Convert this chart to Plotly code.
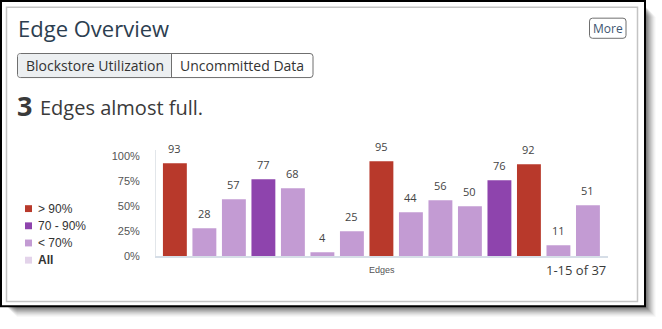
import plotly.graph_objects as go

# Blockstore utilization per edge (page 1 of 37)
edges = [f"Edge {i}" for i in range(1, 16)]
utilization = [93, 28, 57, 77, 68, 4, 25, 95, 44, 56, 50, 76, 92, 11, 51]

legend_labels = ["> 90%", "70 - 90%", "< 70%", "All"]
legend_colors = ["#b8392b", "#8e44ad", "#c39bd3", "#e3d3ea"]
y_ticks = [0, 25, 50, 75, 100]
y_tick_text = ["0%", "25%", "50%", "75%", "100%"]

W, H = 662, 329


def px(x):
    return x / W


def py(y):
    return 1 - y / H


def bar_color(v):
    if v > 90:
        return legend_colors[0]
    if v >= 70:
        return legend_colors[1]
    return legend_colors[2]


def rounded(x0, y0, x1, y1, r):
    # rounded rectangle path in paper coordinates (input in pixels)
    X0, X1 = px(x0), px(x1)
    Y0, Y1 = py(y0), py(y1)
    rx, ry = r / W, r / H
    return (f"M{X0+rx},{Y0} L{X1-rx},{Y0} Q{X1},{Y0} {X1},{Y0-ry} "
            f"L{X1},{Y1+ry} Q{X1},{Y1} {X1-rx},{Y1} L{X0+rx},{Y1} "
            f"Q{X0},{Y1} {X0},{Y1+ry} L{X0},{Y0-ry} Q{X0},{Y0} {X0+rx},{Y0} Z")


fig = go.Figure()
fig.add_trace(go.Bar(
    x=list(range(len(edges))),
    y=utilization,
    marker=dict(color=[bar_color(v) for v in utilization], line=dict(width=0)),
    hovertext=edges,
    showlegend=False,
))

shapes = []
# drop shadow of the outer frame
for i, op in enumerate([0.10, 0.10, 0.09, 0.08, 0.07, 0.06, 0.05, 0.04, 0.03, 0.02]):
    shapes.append(dict(type="rect", xref="paper", yref="paper",
                       x0=px(8 + i), x1=px(647 + i), y0=py(314 + i), y1=py(8 + i),
                       fillcolor=f"rgba(0,0,0,{op})", line=dict(width=0), layer="below"))
# outer frame
shapes.append(dict(type="rect", xref="paper", yref="paper",
                   x0=px(1), x1=px(645), y0=py(312), y1=py(1),
                   fillcolor="white", line=dict(color="#000000", width=2), layer="below"))
# inner panel border
shapes.append(dict(type="rect", xref="paper", yref="paper",
                   x0=px(6.5), x1=px(637.5), y0=py(307), y1=py(7.5),
                   fillcolor="white", line=dict(color="#c4c4c4", width=1.5), layer="below"))
# tab buttons
shapes.append(dict(type="path", xref="paper", yref="paper",
                   path=rounded(17.5, 54.5, 313, 79, 3),
                   fillcolor="white", line=dict(color="#6f6f6f", width=1), layer="below"))
shapes.append(dict(type="path", xref="paper", yref="paper",
                   path=rounded(18, 55, 171, 78.5, 2.5),
                   fillcolor="#eceff1", line=dict(width=0), layer="below"))
shapes.append(dict(type="line", xref="paper", yref="paper",
                   x0=px(171.5), x1=px(171.5), y0=py(54.5), y1=py(79),
                   line=dict(color="#6f6f6f", width=1)))
# "More" button
shapes.append(dict(type="path", xref="paper", yref="paper",
                   path=rounded(589.5, 18.5, 626, 39, 3),
                   fillcolor="white", line=dict(color="#6f6f6f", width=1), layer="below"))
# legend swatches
for i, c in enumerate(legend_colors):
    yc = 212.5 + i * 17.5
    shapes.append(dict(type="rect", xref="paper", yref="paper",
                       x0=px(25), x1=px(32), y0=py(yc + 3.5), y1=py(yc - 3.5),
                       fillcolor=c, line=dict(width=0)))

annotations = [
    dict(text="Edge Overview", x=px(16), y=py(29), xanchor="left", yanchor="middle",
         font=dict(family="Open Sans", size=22, color="#2c3e50")),
    dict(text="Blockstore Utilization", x=px(94.5), y=py(67), xanchor="center", yanchor="middle",
         font=dict(family="Open Sans", size=14, color="#333333")),
    dict(text="Uncommitted Data", x=px(242), y=py(67), xanchor="center", yanchor="middle",
         font=dict(family="Open Sans", size=14, color="#333333")),
    dict(text="More", x=px(607.7), y=py(29), xanchor="center", yanchor="middle",
         font=dict(family="Open Sans", size=12, color="#3d5570")),
    dict(text="<b>3</b>", x=px(15), y=py(107), xanchor="left", yanchor="middle",
         font=dict(family="Open Sans", size=27, color="#3a3a3a")),
    dict(text="Edges almost full.", x=px(38), y=py(109), xanchor="left", yanchor="middle",
         font=dict(family="Open Sans", size=20, color="#3a3a3a")),
    dict(text="Edges", x=px(382), y=py(275), xanchor="center", yanchor="middle",
         font=dict(family="Liberation Sans", size=9, color="#555555")),
    dict(text="1-15 of 37", x=px(608), y=py(275), xanchor="right", yanchor="middle",
         font=dict(family="Open Sans", size=13, color="#3a3a3a")),
]
for i, lab in enumerate(legend_labels):
    yc = 212.5 + i * 17.5
    txt = f"<b>{lab}</b>" if lab == "All" else lab
    annotations.append(dict(text=txt, x=px(36), y=py(yc), xanchor="left", yanchor="middle",
                            font=dict(family="Liberation Sans", size=12, color="#333333")))
# value labels above each bar
for i, v in enumerate(utilization):
    annotations.append(dict(text=str(v), x=i, y=v, xref="x", yref="y",
                            xanchor="center", yanchor="bottom", yshift=5, showarrow=False,
                            font=dict(family="Open Sans", size=11, color="#444444")))

for a in annotations:
    a.setdefault("xref", "paper")
    a.setdefault("yref", "paper")
    a.setdefault("showarrow", False)

fig.update_layout(
    width=W, height=H,
    margin=dict(l=0, r=0, t=0, b=0),
    paper_bgcolor="white",
    plot_bgcolor="rgba(0,0,0,0)",
    bargap=0.19,
    shapes=shapes,
    annotations=annotations,
    xaxis=dict(domain=[px(156), px(608)], range=[-0.64, 14.68],
               showticklabels=False, showgrid=False, zeroline=False,
               showline=True, linecolor="#d6dee7", linewidth=2, ticks=""),
    yaxis=dict(domain=[py(261), py(153)], range=[0, 106],
               tickvals=y_ticks, ticktext=y_tick_text, ticks="",
               showgrid=False, zeroline=False,
               showline=True, linecolor="#e2e6ea", linewidth=1,
               ticklabelstandoff=13,
               tickfont=dict(family="Liberation Sans", size=11, color="#555555")),
)

fig.write_html("out.html")
